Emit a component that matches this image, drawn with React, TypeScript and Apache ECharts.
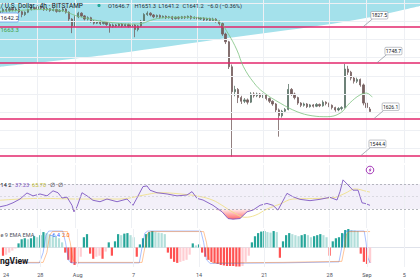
import React, { useEffect, useRef } from "react";
import * as echarts from "echarts";

// 8-hour candles starting Jul 24 00:00 (day 0): [open, close, low, high]
const candles: number[][] = [
  [1858, 1862, 1855, 1866], [1862, 1866, 1859, 1870], [1866, 1864, 1860, 1869], [1864, 1868, 1861, 1872],
  [1868, 1865, 1862, 1871], [1865, 1867, 1862, 1870], [1867, 1861, 1858, 1869], [1861, 1855, 1849, 1863],
  [1855, 1860, 1852, 1862], [1860, 1866, 1858, 1868], [1866, 1870, 1864, 1874], [1870, 1868, 1865, 1872],
  [1868, 1872, 1866, 1876], [1872, 1869, 1866, 1874], [1869, 1866, 1863, 1871], [1866, 1868, 1863, 1871],
  [1868, 1864, 1861, 1869], [1864, 1866, 1862, 1869], [1866, 1862, 1859, 1868], [1862, 1864, 1860, 1867],
  [1864, 1867, 1861, 1870], [1867, 1860, 1857, 1869], [1860, 1845, 1841, 1862], [1845, 1830, 1814, 1847],
  [1830, 1850, 1828, 1853], [1850, 1858, 1847, 1861], [1858, 1852, 1849, 1860], [1852, 1845, 1842, 1854],
  [1845, 1848, 1842, 1851], [1848, 1840, 1837, 1850], [1840, 1836, 1833, 1843], [1836, 1840, 1834, 1842],
  [1840, 1835, 1832, 1842], [1835, 1838, 1833, 1840], [1838, 1833, 1830, 1840], [1833, 1829, 1815, 1836],
  [1829, 1832, 1826, 1835], [1832, 1830, 1827, 1834], [1830, 1834, 1828, 1836], [1834, 1830, 1827, 1836],
  [1830, 1833, 1828, 1835], [1833, 1829, 1826, 1835], [1829, 1832, 1826, 1834], [1832, 1822, 1805, 1834],
  [1822, 1830, 1818, 1832], [1830, 1840, 1828, 1843], [1840, 1855, 1838, 1858], [1855, 1858, 1852, 1862],
  [1858, 1854, 1851, 1860], [1854, 1850, 1847, 1856], [1850, 1853, 1848, 1855], [1853, 1849, 1846, 1855],
  [1849, 1851, 1847, 1853], [1851, 1848, 1845, 1853], [1848, 1850, 1846, 1852], [1850, 1846, 1843, 1852],
  [1846, 1849, 1844, 1851], [1849, 1847, 1844, 1851], [1847, 1850, 1845, 1852], [1850, 1848, 1845, 1852],
  [1848, 1851, 1846, 1853], [1851, 1847, 1844, 1853], [1847, 1849, 1845, 1851], [1849, 1845, 1842, 1851],
  [1845, 1847, 1843, 1849], [1847, 1843, 1840, 1849], [1843, 1846, 1841, 1848], [1846, 1842, 1839, 1848],
  [1842, 1845, 1840, 1848], [1845, 1840, 1837, 1847], [1840, 1835, 1831, 1842], [1835, 1812, 1808, 1837],
  [1812, 1795, 1790, 1815], [1795, 1740, 1735, 1797], [1740, 1685, 1542, 1745], [1685, 1690, 1675, 1698],
  [1690, 1672, 1660, 1693], [1672, 1664, 1658, 1676], [1664, 1667, 1660, 1671], [1667, 1662, 1657, 1670],
  [1662, 1680, 1660, 1684], [1680, 1676, 1672, 1684], [1676, 1680, 1673, 1683], [1680, 1674, 1671, 1682],
  [1674, 1678, 1671, 1681], [1678, 1670, 1666, 1680], [1670, 1664, 1660, 1672], [1664, 1658, 1654, 1666],
  [1658, 1645, 1640, 1660], [1645, 1632, 1586, 1648], [1632, 1642, 1628, 1645], [1642, 1646, 1638, 1649],
  [1646, 1690, 1644, 1702], [1690, 1680, 1676, 1693], [1680, 1672, 1668, 1683], [1672, 1660, 1656, 1674],
  [1660, 1655, 1651, 1662], [1655, 1658, 1652, 1661], [1658, 1652, 1649, 1660], [1652, 1656, 1650, 1658],
  [1656, 1653, 1650, 1658], [1653, 1657, 1651, 1660], [1657, 1654, 1651, 1659], [1654, 1662, 1652, 1666],
  [1662, 1659, 1655, 1664], [1659, 1655, 1651, 1661], [1655, 1650, 1646, 1657], [1650, 1645, 1641, 1652],
  [1645, 1648, 1642, 1651], [1648, 1650, 1644, 1653], [1650, 1735, 1648, 1746], [1735, 1728, 1722, 1742],
  [1728, 1715, 1710, 1731], [1715, 1708, 1703, 1718], [1708, 1712, 1704, 1716], [1712, 1700, 1696, 1714],
  [1700, 1660, 1655, 1703], [1660, 1650, 1645, 1663], [1646.7, 1641.2, 1641.2, 1651.3],
];
const CANDLES_PER_DAY = 3;

// MACD histogram, one value per candle
const macdHist: number[] = [
  -8, -7, -5, -3, -1, 4, 8, 9, 8, 9, 11, 10, 12, 15, 14, 13, 12, 11, 9, 5,
  -5, -12, -15, -17, -16, -9, 10, 13, -6, -11, -9, -8, -11, -4, 5, -8, 6, 13, 12, 13.5,
  14, 12, 10, -9, 3, 9, 13, 15, 16, 15, 14.5, 14, 13, -5, -11, -14, -15, -14, -13, -12,
  -7, 4, 2, 3, -5, -9, -12, -14, -15, -16, -17, -17.5, -18, -18, -18, -18.5, -18.5, -18, -14, -8,
  5, 11, 14, 15.5, 16, 15, 14.5, 16, 15, -10, 6, 12, 14, 13, 12, 11, 12, 13, 12, 10,
  11, 12, 13, 12, 10, -8, 6, 9, 10, 14, 17, 18, 17, 16.5, 16, -6, -14, -16, -15,
];

// [day, value] points
const maPoints: number[][] = [
  [0, 1862], [2, 1864], [4, 1866], [6, 1865], [7, 1861], [8, 1853], [9, 1848], [10, 1843], [12, 1837],
  [14, 1834], [15, 1835], [16, 1842], [17, 1847], [19, 1849], [21, 1848], [22.5, 1845], [23.4, 1838],
  [24.3, 1812], [25.2, 1777], [25.9, 1740], [27, 1705], [28, 1684], [29.8, 1660], [31.6, 1641],
  [33.2, 1632], [34.8, 1630], [36.2, 1638], [37.2, 1660], [38.3, 1678], [39, 1682], [39.6, 1673],
];
const zoneEdge: number[][] = [
  [0, 1740], [11.17, 1766], [22.34, 1798], [33, 1827.5], [39.04, 1848], [44.68, 1874],
];
const rsiPoints: number[][] = [
  [0, 33.7], [0.71, 36], [1.38, 40], [2.13, 46], [2.87, 55.6], [3.51, 51], [4.26, 54], [5, 51], [5.64, 59],
  [6.17, 56], [6.6, 47.6], [7.13, 49], [7.66, 36], [7.87, 25.7], [8.19, 33.7], [8.72, 56], [9.26, 51],
  [9.89, 44], [10.64, 41.7], [11.38, 46], [12.45, 41.7], [13.51, 46], [14.15, 36], [14.57, 47.6],
  [15.21, 65.7], [15.64, 66.8], [15.96, 60], [16.7, 56], [17.77, 54], [18.83, 51], [19.89, 52.4],
  [20.43, 57.7], [20.96, 47], [21.6, 44.4], [22.66, 36], [23.62, 25.7], [24.26, 15], [24.79, 14],
  [25.53, 15], [26.28, 25.7], [26.91, 28.4], [27.66, 36], [28.4, 39], [29.04, 36], [29.57, 28.4],
  [30.53, 55], [31.17, 49.6], [31.91, 45.5], [32.98, 43.4], [34.04, 45.5], [35.11, 48.7], [35.85, 44.4],
  [36.17, 57.7], [36.49, 76.4], [37.02, 68.4], [37.55, 60], [38.09, 60], [38.51, 40], [38.83, 39], [39.36, 36],
];
const rsiMaPoints: number[][] = [
  [0, 44], [4.26, 47], [8.51, 46], [12.77, 46], [15.21, 52], [17.02, 56], [19.89, 53], [21.28, 50],
  [22.66, 44], [23.62, 36], [24.79, 25], [26.06, 17], [27.13, 20], [28.4, 30], [29.79, 38], [31.17, 46],
  [34.04, 47], [35.43, 48], [36.7, 55], [37.77, 62], [39.04, 58], [39.36, 57],
];
const macdLine: number[][] = [
  [0, -15], [3.9, -15], [4.3, -5], [4.6, 12], [4.9, 16], [6.4, 16], [6.7, 5], [7.0, -12], [7.3, -15],
  [14.6, -15], [14.9, 0], [15.2, 14], [15.5, 16], [21.2, 16], [21.5, 5], [21.8, -12], [22.2, -15.5],
  [30, -15], [36.0, -14], [36.3, 0], [36.5, 13], [36.8, 16], [38.7, 16], [38.9, 5], [39.1, -10], [39.33, -15],
];
const signalLine: number[][] = [
  [0, -14.5], [4.3, -14.5], [4.7, -5], [5.0, 12], [5.3, 15.5], [6.9, 15.5], [7.2, 5], [7.5, -12], [7.8, -14.5],
  [14.9, -14.5], [15.2, 0], [15.5, 14], [15.8, 15.5], [21.5, 15.5], [21.8, 5], [22.1, -12], [22.5, -15],
  [30, -14.5], [36.3, -13.5], [36.6, 0], [36.8, 13], [37.1, 15.5], [39.33, 15.5],
];

const levelPrices = [1827.5, 1748.7, 1626.1, 1544.4];
const levelLabelDays = [38.6, 40.1, 39.8, 38.4];
const priceGridLines = [1560, 1600, 1640, 1680, 1720, 1760, 1800, 1840, 1880];
const dayTicks = [0, 4, 8, 14, 21, 28, 35, 39, 43];
const dayTickLabels = ["24", "28", "Aug", "7", "14", "21", "28", "Sep", "5"];
const ohlcTexts = ["O1646.7", "H1651.3", "L1641.2", "C1641.2", "−6.0 (−0.36%)"];
const X_MAX = 44.68;

const FONT = "Roboto, 'Liberation Sans', Arial, sans-serif";
const GRID_COLOR = "#eef0f4";

function vGridSeries(xi: number) {
  return {
    type: "line",
    xAxisIndex: xi,
    yAxisIndex: xi,
    data: [],
    z: 0,
    silent: true,
    markLine: {
      silent: true,
      symbol: "none",
      label: { show: false },
      lineStyle: { color: GRID_COLOR, width: 1, type: "solid" },
      data: dayTicks.slice(1).map((d) => ({ xAxis: d })),
    },
  };
}

export default function App() {
  const ref = useRef<HTMLDivElement>(null);
  useEffect(() => {
    const chart = echarts.init(ref.current!, undefined, { renderer: "svg" });
    const candleData = candles.map((c, i) => [i / CANDLES_PER_DAY, c[0], c[1], c[2], c[3]]);
    const histData = macdHist.map((v, i) => [i / CANDLES_PER_DAY, v]);
    const ohlcX = [108, 134.5, 158.5, 182.5, 207];

    const option: any = {
      animation: false,
      backgroundColor: "#ffffff",
      grid: [
        { left: 0, right: 0, top: 0, height: 163 },
        { left: 0, right: 0, top: 165, height: 63 },
        { left: 0, right: 0, top: 229, height: 38 },
      ],
      xAxis: [0, 1, 2].map((g) => ({
        type: "value",
        gridIndex: g,
        min: 0,
        max: X_MAX,
        interval: 1,
        show: g === 2,
        axisLine: { show: g === 2, lineStyle: { color: "#e0e3eb", width: 1 } },
        axisTick: { show: false },
        splitLine: { show: false },
        axisLabel: {
          show: g === 2,
          fontSize: 5.5,
          color: "#50535e",
          fontFamily: FONT,
          margin: 5,
          showMinLabel: true,
          showMaxLabel: false,
          alignMinLabel: "left",
          formatter: (v: number) => {
            const r = Math.round(v);
            if (Math.abs(v - r) > 1e-6) return "";
            const k = dayTicks.indexOf(r);
            return k >= 0 ? dayTickLabels[k] : "";
          },
        },
      })),
      yAxis: [
        { type: "value", gridIndex: 0, min: 1528, max: 1887, show: false, splitLine: { show: false } },
        { type: "value", gridIndex: 1, min: 0, max: 100, show: false, splitLine: { show: false } },
        { type: "value", gridIndex: 2, min: -19, max: 18, show: false, splitLine: { show: false } },
      ],
      series: [
        {
          type: "line",
          xAxisIndex: 0,
          yAxisIndex: 0,
          data: [],
          z: 0,
          silent: true,
          markLine: {
            silent: true,
            symbol: "none",
            label: { show: false },
            lineStyle: { color: GRID_COLOR, width: 1, type: "solid" },
            data: [
              ...dayTicks.slice(1).map((d) => ({ xAxis: d })),
              ...priceGridLines.map((p) => ({ yAxis: p })),
            ],
          },
        },
        {
          type: "line",
          xAxisIndex: 0,
          yAxisIndex: 0,
          data: zoneEdge,
          smooth: 0.3,
          symbol: "none",
          silent: true,
          z: 1,
          lineStyle: { width: 0 },
          areaStyle: { color: "#a4e1eb", opacity: 1, origin: "end" },
        },
        {
          type: "line",
          xAxisIndex: 0,
          yAxisIndex: 0,
          data: [],
          z: 3,
          silent: true,
          markLine: {
            silent: true,
            symbol: "none",
            label: { show: false },
            lineStyle: { color: "#e3276d", width: 1.6, type: "solid" },
            data: levelPrices.map((p) => ({ yAxis: p })),
          },
        },
        {
          type: "candlestick",
          xAxisIndex: 0,
          yAxisIndex: 0,
          data: candleData,
          encode: { x: 0, y: [1, 2, 3, 4] },
          barWidth: 1.8,
          z: 4,
          itemStyle: {
            color: "#5d7468",
            color0: "#766060",
            borderColor: "#5d7468",
            borderColor0: "#766060",
            borderWidth: 0.8,
          },
        },
        {
          type: "line",
          xAxisIndex: 0,
          yAxisIndex: 0,
          data: maPoints,
          smooth: 0.4,
          symbol: "none",
          z: 5,
          lineStyle: { color: "#7cc27f", width: 0.8 },
        },
        {
          type: "custom",
          xAxisIndex: 0,
          yAxisIndex: 0,
          z: 6,
          data: levelPrices.map((p, k) => [levelLabelDays[k], p]),
          encode: { x: 0, y: 1 },
          renderItem: (params: any, api: any) => {
            const pt = api.coord([api.value(0), api.value(1)]);
            const label = levelPrices[params.dataIndex].toFixed(1);
            const bx = pt[0] + 8;
            const by = pt[1] - 15.5;
            return {
              type: "group",
              children: [
                {
                  type: "line",
                  shape: { x1: pt[0], y1: pt[1], x2: bx + 1.5, y2: by + 7.5 },
                  style: { stroke: "#8a8e99", lineWidth: 0.7 },
                },
                {
                  type: "rect",
                  shape: { x: bx, y: by, width: 17, height: 7.5, r: 1 },
                  style: { fill: "#ffffff", stroke: "#9598a1", lineWidth: 0.6 },
                },
                {
                  type: "text",
                  x: bx + 8.5,
                  y: by + 3.9,
                  style: {
                    text: label,
                    fill: "#131722",
                    fontSize: 5,
                    fontFamily: FONT,
                    textAlign: "center",
                    textVerticalAlign: "middle",
                  },
                },
              ],
            };
          },
        },
        vGridSeries(1),
        {
          type: "line",
          xAxisIndex: 1,
          yAxisIndex: 1,
          data: [],
          z: 1,
          silent: true,
          markArea: {
            silent: true,
            itemStyle: { color: "rgba(126,87,194,0.09)" },
            data: [[{ yAxis: 30 }, { yAxis: 70 }]],
          },
          markLine: {
            silent: true,
            symbol: "none",
            label: { show: false },
            data: [
              { yAxis: 70, lineStyle: { color: "#9a9ca6", width: 0.7, type: [2, 2] } },
              { yAxis: 50, lineStyle: { color: "#c9cad0", width: 0.6, type: [2, 2] } },
              { yAxis: 30, lineStyle: { color: "#9a9ca6", width: 0.7, type: [2, 2] } },
            ],
          },
        },
        {
          type: "line",
          xAxisIndex: 1,
          yAxisIndex: 1,
          data: rsiPoints.map(([d, v]) => [d, Math.min(v, 30)]),
          symbol: "none",
          silent: true,
          z: 2,
          lineStyle: { width: 0 },
          areaStyle: {
            origin: 30,
            opacity: 1,
            color: new echarts.graphic.LinearGradient(0, 0, 0, 1, [
              { offset: 0, color: "rgba(255,82,82,0.08)" },
              { offset: 1, color: "rgba(255,82,82,0.85)" },
            ]),
          },
        },
        {
          type: "line",
          xAxisIndex: 1,
          yAxisIndex: 1,
          data: rsiMaPoints,
          smooth: 0.4,
          symbol: "none",
          z: 3,
          lineStyle: { color: "#efe08a", width: 0.9 },
        },
        {
          type: "line",
          xAxisIndex: 1,
          yAxisIndex: 1,
          data: rsiPoints,
          symbol: "none",
          z: 4,
          lineStyle: { color: "#7e57c2", width: 0.9 },
        },
        vGridSeries(2),
        {
          type: "bar",
          xAxisIndex: 2,
          yAxisIndex: 2,
          data: histData,
          barWidth: 2.2,
          z: 2,
          itemStyle: {
            color: (p: any) => {
              const i = p.dataIndex;
              const v = macdHist[i];
              const prev = i > 0 ? macdHist[i - 1] : v;
              if (v >= 0) return v >= prev ? "#26a69a" : "#b2dfdb";
              return v <= prev ? "#ff5252" : "#ffcdd2";
            },
          },
        },
        {
          type: "line",
          xAxisIndex: 2,
          yAxisIndex: 2,
          data: macdLine,
          symbol: "none",
          z: 3,
          lineStyle: { color: "#2962ff", width: 0.8, opacity: 0.5 },
        },
        {
          type: "line",
          xAxisIndex: 2,
          yAxisIndex: 2,
          data: signalLine,
          symbol: "none",
          z: 3,
          lineStyle: { color: "#ff6d00", width: 0.8, opacity: 0.5 },
        },
      ],
      graphic: {
        elements: [
          {
            type: "text", x: 0.5, y: 5.5, z: 100,
            style: { text: "/ U.S. Dollar · 4h · BITSTAMP", fill: "#131722", fontSize: 6.5, fontFamily: FONT, textAlign: "left", textVerticalAlign: "middle" },
          },
          { type: "circle", shape: { cx: 99, cy: 5.5, r: 1.6 }, style: { fill: "#26a69a" }, z: 100 },
          ...ohlcTexts.map((t, k) => ({
            type: "text", x: ohlcX[k], y: 5.5, z: 100,
            style: { text: t, fill: "#2a2e39", fontSize: 5.7, fontFamily: FONT, textAlign: "left", textVerticalAlign: "middle" },
          })),
          {
            type: "rect", shape: { x: -3, y: 13, width: 21.5, height: 9, r: 1.5 }, z: 100,
            style: { fill: "#ffffff", stroke: "#6e9de8", lineWidth: 0.8 },
          },
          {
            type: "text", x: 0.5, y: 17.6, z: 101,
            style: { text: "1642.2", fill: "#2a2e39", fontSize: 6, fontFamily: FONT, textVerticalAlign: "middle" },
          },
          {
            type: "text", x: 0.5, y: 29.6, z: 101,
            style: { text: "1663.3", fill: "#43a047", fontSize: 6, fontFamily: FONT, textVerticalAlign: "middle" },
          },
          { type: "circle", shape: { cx: 370, cy: 170, r: 3.8 }, style: { fill: "#ffffff", stroke: "#9c27b0", lineWidth: 0.9 }, z: 100 },
          {
            type: "polygon", z: 101,
            shape: { points: [[371, 167.2], [368.6, 170.5], [370, 170.5], [369.2, 172.9], [371.5, 169.5], [370.1, 169.5]] },
            style: { fill: "#9c27b0" },
          },
          {
            type: "text", x: 0.5, y: 184.5, z: 100,
            style: { text: "14 2", fill: "#131722", fontSize: 5.6, fontFamily: FONT, textVerticalAlign: "middle" },
          },
          {
            type: "text", x: 15, y: 184.5, z: 100,
            style: { text: "37.23", fill: "#7e57c2", fontSize: 5.6, fontFamily: FONT, textVerticalAlign: "middle" },
          },
          {
            type: "text", x: 32, y: 184.5, z: 100,
            style: { text: "65.70", fill: "#c6c236", fontSize: 5.6, fontFamily: FONT, textVerticalAlign: "middle" },
          },
          {
            type: "text", x: 50, y: 184.5, z: 100,
            style: { text: "∅  ∅", fill: "#131722", fontSize: 5.6, fontFamily: FONT, textVerticalAlign: "middle" },
          },
          {
            type: "text", x: 0.5, y: 235, z: 100,
            style: { text: "e 9 EMA EMA", fill: "#50535e", fontSize: 5.6, fontFamily: FONT, textVerticalAlign: "middle" },
          },
          {
            type: "text", x: 49, y: 235, z: 100,
            style: { text: "−6.4", fill: "#2962ff", fontSize: 5.6, fontFamily: FONT, textVerticalAlign: "middle" },
          },
          {
            type: "text", x: 62, y: 235, z: 100,
            style: { text: "2.0", fill: "#ff6d00", fontSize: 5.6, fontFamily: FONT, textVerticalAlign: "middle" },
          },
          {
            type: "text", x: 0, y: 261, z: 100,
            style: { text: "ngView", fill: "#131722", fontSize: 8.5, fontWeight: "bold", fontFamily: FONT, textVerticalAlign: "middle" },
          },
        ],
      },
    };
    chart.setOption(option);
    return () => chart.dispose();
  }, []);
  return (
    <div
      ref={ref}
      style={{ position: "absolute", left: 0, top: 0, width: 420, height: 280, background: "#fff", overflow: "hidden" }}
    />
  );
}
